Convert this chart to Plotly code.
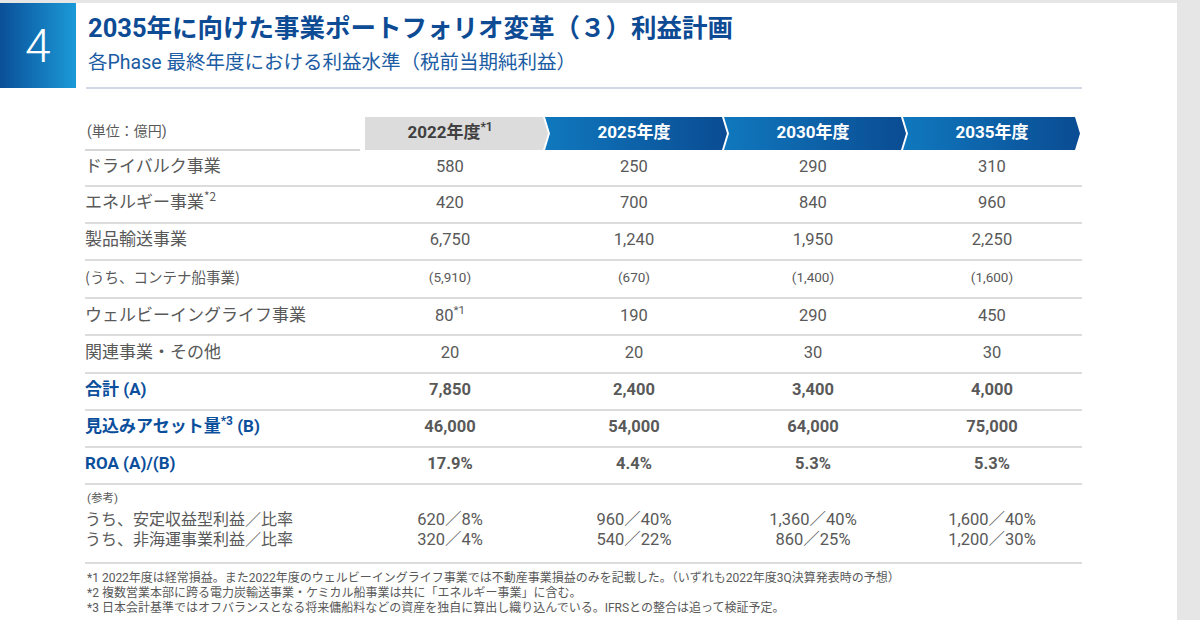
import plotly.graph_objects as go

# table data (unit: 億円)
years = ['2022年度<sup>*1</sup>', '2025年度', '2030年度', '2035年度']
row_labels = ['ドライバルク事業', 'エネルギー事業<sup>*2</sup>', '製品輸送事業', '(うち、コンテナ船事業)',
              'ウェルビーイングライフ事業', '関連事業・その他']
bold_labels = ['合計 (A)', '見込みアセット量<sup>*3</sup> (B)', 'ROA (A)/(B)']

dry_bulk = [580, 250, 290, 310]
energy = [420, 700, 840, 960]
product = [6750, 1240, 1950, 2250]
container = [5910, 670, 1400, 1600]
wellbeing = [80, 190, 290, 450]
related = [20, 20, 30, 30]
total_a = [7850, 2400, 3400, 4000]
assets_b = [46000, 54000, 64000, 75000]
roa = [17.9, 4.4, 5.3, 5.3]

ref_labels = ['うち、安定収益型利益／比率', 'うち、非海運事業利益／比率']
stable_profit = [620, 960, 1360, 1600]
stable_ratio = [8, 40, 40, 40]
non_shipping = [320, 540, 860, 1200]
non_shipping_ratio = [4, 22, 25, 30]

footnotes = [
    '*1 2022年度は経常損益。また2022年度のウェルビーイングライフ事業では不動産事業損益のみを記載した。（いずれも2022年度3Q決算発表時の予想）',
    '*2 複数営業本部に跨る電力炭輸送事業・ケミカル船事業は共に「エネルギー事業」に含む。',
    '*3 日本会計基準ではオフバランスとなる将来傭船料などの資産を独自に算出し織り込んでいる。IFRSとの整合は追って検証予定。',
]

FONT = 'Roboto, Noto Sans CJK JP'
JP = 'Noto Sans CJK JP'
GREY = '#595959'
BLUE = '#0b4f9c'

col_x = [450, 634, 813, 992]
row_y = [168, 204, 241, 279, 317, 354, 391, 428, 465]
sep_y = [186, 223, 260, 298, 335, 373, 410, 447, 484]
left, right = 85, 1082

fig = go.Figure()

# slide background
shapes = [dict(type='rect', x0=0, x1=1177, y0=3, y1=620, fillcolor='white', line_width=0, layer='below')]

# number box
fig.add_trace(go.Scatter(x=[0, 76, 76, 0, 0], y=[3, 3, 88, 88, 3], fill='toself', mode='lines',
                         line=dict(width=0), hoverinfo='skip',
                         fillgradient=dict(type='horizontal', colorscale=[[0, '#0a4f98'], [1, '#1b9ad8']])))

# header chevrons
edges = [365, 545, 724, 903, 1077]
d = 5
top, bot, mid = 117, 150, 133.5
for i in range(4):
    x0, x1 = edges[i], edges[i + 1] - 2
    if i == 0:
        xs = [x0, x1, x1 + d, x1, x0, x0]
        ys = [top, top, mid, bot, bot, top]
        fig.add_trace(go.Scatter(x=xs, y=ys, fill='toself', mode='lines', fillcolor='#dcdcdc',
                                 line=dict(width=0), hoverinfo='skip'))
    else:
        xs = [x0, x1, x1 + d, x1, x0, x0 + d, x0]
        ys = [top, top, mid, bot, bot, mid, top]
        fig.add_trace(go.Scatter(x=xs, y=ys, fill='toself', mode='lines', line=dict(width=0),
                                 hoverinfo='skip',
                                 fillgradient=dict(type='horizontal',
                                                   colorscale=[[0, '#1078be'], [1, '#0a4c93']])))

fig.add_trace(go.Scatter(x=col_x[:1], y=[mid], mode='text', text=['<b>' + years[0] + '</b>'],
                         textfont=dict(family=FONT, size=17, color='#404040'), hoverinfo='skip'))
fig.add_trace(go.Scatter(x=col_x[1:], y=[mid] * 3, mode='text', text=['<b>' + y + '</b>' for y in years[1:]],
                         textfont=dict(family=FONT, size=17, color='white'), hoverinfo='skip'))

# lines
shapes.append(dict(type='line', x0=86, x1=1082, y0=88, y1=88, line=dict(color='#9fb3cf', width=1.2)))
shapes.append(dict(type='line', x0=left, x1=360, y0=150, y1=150, line=dict(color='#d6d6d6', width=2)))
for y in sep_y + [563]:
    shapes.append(dict(type='line', x0=left, x1=right, y0=y, y1=y, line=dict(color='#dcdcdc', width=2)))

def fmt(v):
    return f'{v:,}'

rows = [
    [fmt(v) for v in dry_bulk],
    [fmt(v) for v in energy],
    [fmt(v) for v in product],
    ['(' + fmt(v) + ')' for v in container],
    [fmt(wellbeing[0]) + '<sup>*1</sup>'] + [fmt(v) for v in wellbeing[1:]],
    [fmt(v) for v in related],
    ['<b>' + fmt(v) + '</b>' for v in total_a],
    ['<b>' + fmt(v) + '</b>' for v in assets_b],
    ['<b>' + f'{v:.1f}%' + '</b>' for v in roa],
]

for i, vals in enumerate(rows):
    size = 13.5 if i == 3 else 16.5
    fig.add_trace(go.Scatter(x=col_x, y=[row_y[i]] * 4, mode='text', text=vals,
                             textfont=dict(family=FONT, size=size, color=GREY), hoverinfo='skip'))

# row labels
for i, lab in enumerate(row_labels):
    size = 14.5 if i == 3 else 17
    fig.add_trace(go.Scatter(x=[left], y=[row_y[i]], mode='text', text=[lab], textposition='middle right',
                             textfont=dict(family=JP, size=size, color=GREY), hoverinfo='skip'))
for j, lab in enumerate(bold_labels):
    fig.add_trace(go.Scatter(x=[left], y=[row_y[6 + j]], mode='text', text=['<b>' + lab + '</b>'],
                             textposition='middle right',
                             textfont=dict(family=FONT, size=17, color=BLUE),
                             hoverinfo='skip'))

# reference block
ref_y = [521, 541]
ref_vals = [
    [fmt(a) + '／' + str(b) + '%' for a, b in zip(stable_profit, stable_ratio)],
    [fmt(a) + '／' + str(b) + '%' for a, b in zip(non_shipping, non_shipping_ratio)],
]
for i in range(2):
    fig.add_trace(go.Scatter(x=[left], y=[ref_y[i]], mode='text', text=[ref_labels[i]], textposition='middle right',
                             textfont=dict(family=JP, size=16, color=GREY), hoverinfo='skip'))
    fig.add_trace(go.Scatter(x=col_x, y=[ref_y[i]] * 4, mode='text', text=ref_vals[i],
                             textfont=dict(family=FONT, size=16.5, color=GREY), hoverinfo='skip'))

annotations = [
    dict(x=38, y=46, text='4', font=dict(family='Roboto', size=46, color='white', weight=300), showarrow=False),
    dict(x=86, y=28, text='<b>2035年に向けた事業ポートフォリオ変革（３）利益計画</b>', xanchor='left',
         font=dict(family=FONT, size=25.5, color='#0d4b94'), showarrow=False),
    dict(x=86, y=62, text='各Phase 最終年度における利益水準（税前当期純利益）', xanchor='left',
         font=dict(family=FONT, size=19.5, color='#1b5ca3'), showarrow=False),
    dict(x=left, y=131, text='(単位：億円)', xanchor='left',
         font=dict(family=FONT, size=14, color=GREY), showarrow=False),
    dict(x=left, y=498, text='(参考)', xanchor='left',
         font=dict(family=FONT, size=11.5, color=GREY), showarrow=False),
]
for k, t in enumerate(footnotes):
    annotations.append(dict(x=left, y=577 + k * 15, text=t, xanchor='left', showarrow=False,
                            font=dict(family=FONT, size=12, color=GREY)))

fig.update_layout(
    width=1200, height=620, margin=dict(l=0, r=0, t=0, b=0),
    paper_bgcolor='#e6e6e6', plot_bgcolor='rgba(0,0,0,0)',
    xaxis=dict(range=[0, 1200], visible=False, fixedrange=True),
    yaxis=dict(range=[620, 0], visible=False, fixedrange=True),
    showlegend=False, shapes=shapes, annotations=annotations,
)

fig.write_html('out.html', config={'displayModeBar': False},
               post_script="document.body.style.margin='0';")
